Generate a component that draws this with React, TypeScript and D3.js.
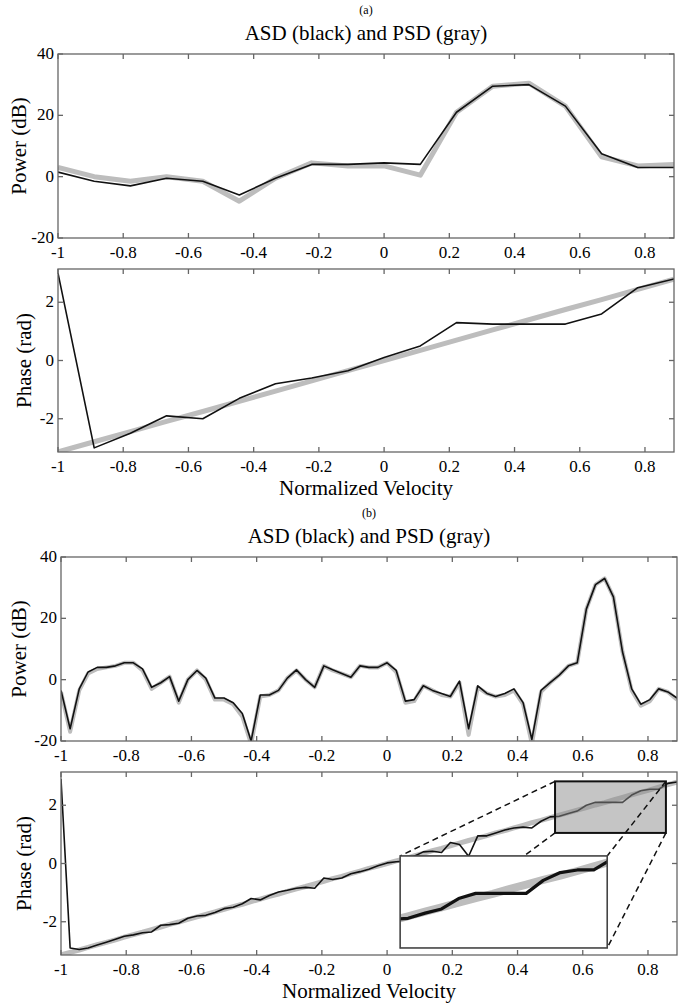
import React from "react";
import * as d3 from "d3";

// velocity grid of panel (a), 18 bins
const velA = [-1, -0.889, -0.778, -0.667, -0.556, -0.444, -0.333, -0.222, -0.111, 0, 0.111, 0.222, 0.333, 0.444, 0.556, 0.667, 0.778, 0.889];
const asdPowA = [1.5, -1.5, -3, -0.5, -1.5, -6, -0.5, 4, 4, 4.5, 4, 21, 29.5, 30, 23, 7.5, 3, 3];
const psdPowA = [3, 0, -1.5, 0, -1.5, -8, -0.5, 4.5, 3.5, 3.5, 0.5, 21, 29.5, 30.5, 23, 6.5, 3.5, 4];
const asdPhA = [3.0, -3.0, -2.5, -1.9, -2.0, -1.3, -0.8, -0.6, -0.35, 0.1, 0.5, 1.3, 1.25, 1.25, 1.25, 1.6, 2.5, 2.8];
const psdPhA = [-3.14, -2.79, -2.44, -2.09, -1.75, -1.4, -1.05, -0.7, -0.35, 0, 0.35, 0.7, 1.05, 1.4, 1.75, 2.09, 2.44, 2.79];

// velocity grid of panel (b), 4x finer
const velB = [
  -1, -0.972, -0.944, -0.917, -0.889, -0.861, -0.833, -0.806, -0.778, -0.75, -0.722, -0.694, -0.667, -0.639, -0.611, -0.583, -0.556,
  -0.528, -0.5, -0.472, -0.444, -0.417, -0.389, -0.361, -0.333, -0.306, -0.278, -0.25, -0.222, -0.194, -0.167, -0.139, -0.111, -0.083,
  -0.056, -0.028, 0, 0.028, 0.056, 0.083, 0.111, 0.139, 0.167, 0.194, 0.222, 0.25, 0.278, 0.306, 0.333, 0.361, 0.389, 0.417, 0.444,
  0.472, 0.5, 0.528, 0.556, 0.583, 0.611, 0.639, 0.667, 0.694, 0.722, 0.75, 0.778, 0.806, 0.833, 0.861, 0.889,
];
const asdPowB = [
  -3.5, -16, -3, 2.5, 4, 4, 4.5, 5.5, 5.5, 3.5, -2.5, -1, 1, -7, 0, 3, 0.5,
  -6, -6, -7.5, -11, -20, -5, -5, -3.5, 0.5, 3.2, 0, -2.5, 4.5, 3.2, 2, 0.8, 4.5,
  4, 4, 5.5, 3, -7, -6.5, -2, -3.5, -4.5, -5.5, -0.5, -16, -2, -4.5, -5.5, -4.5, -3, -7.5, -19.5,
  -3.5, -1, 1.5, 4.5, 5.5, 23, 31, 33, 27, 9, -3, -8, -6.5, -3, -4, -6,
];
const psdPowB = [
  -4, -17, -3.5, 2, 3.5, 4, 4.5, 5.5, 5.5, 3, -3, -1, 1, -7.5, 0, 3, 0,
  -6.5, -6.5, -8, -12, -21, -5.5, -5, -3.5, 0.5, 3, 0, -2.5, 4.5, 3, 2, 0.8, 4.5,
  4, 4, 5.5, 2.5, -7.5, -7, -2, -3.5, -5, -5.5, -1, -18, -2.5, -4.5, -5.5, -5, -3.5, -8, -21,
  -4, -1, 1.5, 4.5, 5.5, 23, 31, 33, 27, 9, -3.5, -8.5, -7, -3, -4, -6.5,
];
const asdPhB = [
  2.9, -2.9, -2.95, -2.9, -2.8, -2.7, -2.6, -2.5, -2.45, -2.38, -2.35, -2.12, -2.1, -2.05, -1.88, -1.8, -1.78,
  -1.68, -1.55, -1.5, -1.38, -1.2, -1.25, -1.1, -0.98, -0.92, -0.85, -0.82, -0.85, -0.5, -0.55, -0.5, -0.35, -0.28,
  -0.2, -0.08, 0.02, 0.06, 0.08, 0.25, 0.4, 0.42, 0.38, 0.72, 0.65, 0.25, 0.95, 0.95, 1.05, 1.15, 1.22, 1.25, 1.22,
  1.45, 1.6, 1.62, 1.72, 1.8, 2.0, 2.1, 2.1, 2.1, 2.1, 2.35, 2.5, 2.55, 2.55, 2.75, 2.8,
];
const psdPhB = [
  -3.14, -3.05, -2.97, -2.88, -2.79, -2.71, -2.62, -2.53, -2.44, -2.36, -2.27, -2.18, -2.09, -2.01, -1.92, -1.83, -1.75,
  -1.66, -1.57, -1.48, -1.4, -1.31, -1.22, -1.13, -1.05, -0.96, -0.87, -0.79, -0.7, -0.61, -0.52, -0.44, -0.35, -0.26,
  -0.17, -0.09, 0, 0.09, 0.17, 0.26, 0.35, 0.44, 0.52, 0.61, 0.7, 0.79, 0.87, 0.96, 1.05, 1.13, 1.22, 1.31, 1.4,
  1.48, 1.57, 1.66, 1.75, 1.83, 1.92, 2.01, 2.09, 2.18, 2.27, 2.36, 2.44, 2.53, 2.62, 2.71, 2.79,
];

const velTicks = [-1, -0.8, -0.6, -0.4, -0.2, 0, 0.2, 0.4, 0.6, 0.8];
const velTickLabels = ["-1", "-0.8", "-0.6", "-0.4", "-0.2", "0", "0.2", "0.4", "0.6", "0.8"];
const powTicks = [40, 20, 0, -20];
const phTicks = [2, 0, -2];

// zoomed region of phase (b) and where its magnified copy sits (data units)
const zoomVel = [0.515, 0.855];
const zoomPh = [1.05, 2.82];
const insetVel = [0.04, 0.675];
const insetPh = [-2.9, 0.26];

const TXT = { fontFamily: "'Liberation Serif', 'DejaVu Serif', serif" };
const FRAME = "#666";
const GRAY = "#bdbdbd";

type Box = { left: number; right: number; top: number; bottom: number };

function Frame({ b, x, y, yTicks, yLabel, labelX }: any) {
  const tl = 5;
  return (
    <g>
      <rect x={b.left} y={b.top} width={b.right - b.left} height={b.bottom - b.top} fill="none" stroke={FRAME} strokeWidth={1.3} />
      {velTicks.map((t, i) => (
        <g key={"x" + i}>
          <line x1={x(t)} x2={x(t)} y1={b.bottom} y2={b.bottom - tl} stroke={FRAME} strokeWidth={1.3} />
          <line x1={x(t)} x2={x(t)} y1={b.top} y2={b.top + tl} stroke={FRAME} strokeWidth={1.3} />
          <text style={TXT} x={x(t)} y={b.bottom + 20} textAnchor="middle" fontSize={17}>{velTickLabels[i]}</text>
        </g>
      ))}
      {yTicks.map((t: number) => (
        <g key={"y" + t}>
          <line x1={b.left} x2={b.left + tl} y1={y(t)} y2={y(t)} stroke={FRAME} strokeWidth={1.3} />
          <line x1={b.right} x2={b.right - tl} y1={y(t)} y2={y(t)} stroke={FRAME} strokeWidth={1.3} />
          <text style={TXT} x={b.left - 4} y={y(t) + 5} textAnchor="end" fontSize={17}>{String(t)}</text>
        </g>
      ))}
      <text style={TXT} transform={`translate(${labelX},${(b.top + b.bottom) / 2}) rotate(-90)`} textAnchor="middle" dy="0.35em" fontSize={21}>
        {yLabel}
      </text>
    </g>
  );
}

function Series({ b, x, y, vel, gray, black, id, grayW = 5, blackW = 1.6 }: any) {
  const line = d3.line<number>().x((_, i) => x(vel[i])).y((d) => y(d));
  return (
    <g clipPath={`url(#${id})`}>
      <defs>
        <clipPath id={id}>
          <rect x={b.left} y={b.top} width={b.right - b.left} height={b.bottom - b.top} />
        </clipPath>
      </defs>
      <path d={line(gray) || ""} fill="none" stroke={GRAY} strokeWidth={grayW} strokeLinejoin="round" />
      <path d={line(black) || ""} fill="none" stroke="#111" strokeWidth={blackW} strokeLinejoin="round" />
    </g>
  );
}

function PanelPair({ tag, offset, left, right }: any) {
  const pow: Box = { left, right, top: 54 + offset, bottom: 238 + offset };
  const ph: Box = { left, right, top: 269 + offset, bottom: 452 + offset };
  const x = d3.scaleLinear().domain([-1, 0.889]).range([left, right]);
  const yPow = d3.scaleLinear().domain([-20, 40]).range([pow.bottom, pow.top]);
  const yPh = d3.scaleLinear().domain([-Math.PI, Math.PI]).range([ph.bottom, ph.top]);
  const isB = tag === "(b)";
  const vel = isB ? velB : velA;
  const mid = (left + right) / 2;

  let zoomParts: any = null;
  if (isB) {
    const zx0 = x(zoomVel[0]), zx1 = x(zoomVel[1]);
    const zy0 = yPh(zoomPh[1]), zy1 = yPh(zoomPh[0]);
    const ix0 = x(insetVel[0]), ix1 = x(insetVel[1]);
    const iy0 = yPh(insetPh[1]), iy1 = yPh(insetPh[0]);
    const inset: Box = { left: ix0, right: ix1, top: iy0, bottom: iy1 };
    const xi = d3.scaleLinear().domain(zoomVel).range([ix0, ix1]);
    const yi = d3.scaleLinear().domain(zoomPh).range([iy1, iy0]);
    const dash = "6,4";
    zoomParts = (
      <g>
        <rect x={zx0} y={zy0} width={zx1 - zx0} height={zy1 - zy0} fill="#8c8c8c" fillOpacity={0.5} stroke="#111" strokeWidth={2} />
        <line x1={zx0} y1={zy0} x2={ix0} y2={iy0} stroke="#111" strokeWidth={1.5} strokeDasharray={dash} />
        <line x1={zx0} y1={zy1} x2={ix0} y2={iy1} stroke="#111" strokeWidth={1.5} strokeDasharray={dash} />
        <line x1={zx1} y1={zy0} x2={ix1} y2={iy0} stroke="#111" strokeWidth={1.5} strokeDasharray={dash} />
        <line x1={zx1} y1={zy1} x2={ix1} y2={iy1} stroke="#111" strokeWidth={1.5} strokeDasharray={dash} />
        <rect x={ix0} y={iy0} width={ix1 - ix0} height={iy1 - iy0} fill="#fff" />
        <Series b={inset} x={xi} y={yi} vel={velB} gray={psdPhB} black={asdPhB} id="clipInset" grayW={8} blackW={3.2} />
        <rect x={ix0} y={iy0} width={ix1 - ix0} height={iy1 - iy0} fill="none" stroke="#444" strokeWidth={1.6} />
      </g>
    );
  }

  return (
    <g>
      <text style={TXT} x={mid} y={offset + 14} textAnchor="middle" fontSize={12}>{tag}</text>
      <text style={TXT} x={mid} y={offset + 40} textAnchor="middle" fontSize={21}>ASD (black) and PSD (gray)</text>
      <Series b={pow} x={x} y={yPow} vel={vel} gray={isB ? psdPowB : psdPowA} black={isB ? asdPowB : asdPowA}
        id={"clipPow" + offset} grayW={isB ? 4 : 5} />
      <Frame b={pow} x={x} y={yPow} yTicks={powTicks} yLabel="Power (dB)" labelX={19} />
      <Series b={ph} x={x} y={yPh} vel={vel} gray={isB ? psdPhB : psdPhA} black={isB ? asdPhB : asdPhA}
        id={"clipPh" + offset} grayW={5} />
      {zoomParts}
      <Frame b={ph} x={x} y={yPh} yTicks={phTicks} yLabel="Phase (rad)" labelX={24} />
      <text style={TXT} x={mid} y={ph.bottom + 43} textAnchor="middle" fontSize={21}>Normalized Velocity</text>
    </g>
  );
}

export default function App() {
  return (
    <svg width={681} height={1004} style={{ position: "absolute", left: 0, top: 0, background: "#fff" }}>
      <rect width={681} height={1004} fill="#fff" />
      <PanelPair tag="(a)" offset={0} left={58} right={674} />
      <PanelPair tag="(b)" offset={503} left={61} right={677} />
    </svg>
  );
}
